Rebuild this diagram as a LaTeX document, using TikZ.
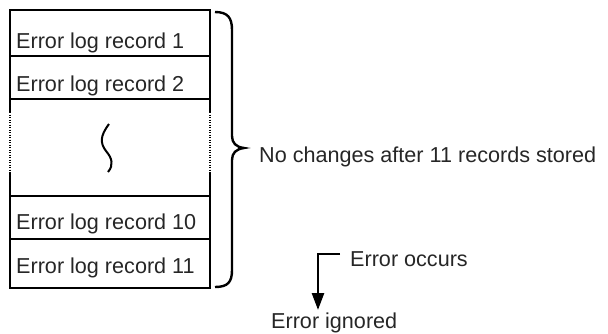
\documentclass[tikz,border=0pt]{standalone}
\usepackage{fontspec}
\setmainfont{Liberation Sans}
\usetikzlibrary{arrows.meta}
\begin{document}
\begin{tikzpicture}[x=1pt,y=-1pt,
  lbl/.style={inner sep=0pt,anchor=base west,text=black!85,font=\fontsize{21.6}{25}\selectfont},
  frame/.style={line width=2.6pt},
  dots/.style={line width=2pt,dash pattern=on 1.2pt off 1.3pt}]
\useasboundingbox (0,0) rectangle (608,333);
% outer box and separators
\draw[frame] (10,99) -- (10,10) -- (210,10) -- (210,99);
\draw[frame] (10,172) -- (10,288) -- (210,288) -- (210,172);
\draw[frame] (10,99) -- (10,112);
\draw[frame] (210,99) -- (210,112);
\draw[dots] (10,112) -- (10,172);
\draw[dots] (210,112) -- (210,172);
\draw[frame] (10,56) -- (210,56);
\draw[frame] (10,99) -- (210,99);
\draw[frame] (10,196) -- (210,196);
\draw[frame] (10,239) -- (210,239);
% records
\node[lbl] (r1) at (16,48) {Error log record 1};
\node[lbl] (r2) at (16,91) {Error log record 2};
\node[lbl] (r10) at (16,229) {Error log record 10};
\node[lbl] (r11) at (16,273) {Error log record 11};
% squiggle
\draw[line width=2pt] (109,124) .. controls (100,136) and (100,143) .. (106,151)
  .. controls (112,158) and (114,165) .. (108,172);
% brace
\draw[line width=2.4pt] (215,12) .. controls (228,12) and (232,18) .. (232,30)
  -- (232,136) .. controls (232,143) and (236,147) .. (244,148)
  .. controls (236,149) and (232,153) .. (232,160)
  -- (232,270) .. controls (232,282) and (228,287) .. (215,287);
\node[lbl] (nc) at (259,162) {No changes after 11 records stored};
% arrow
\node[lbl] (eo) at (350,266) {Error occurs};
\node[lbl] (ei) at (271,328) {Error ignored};
\coordinate (a0) at (340,254);
\coordinate (a1) at (318,254);
\coordinate (a2) at (318,310);
\draw[line width=2.6pt,-{Triangle[length=17pt,width=12pt]}] (a0) -- (a1) -- (a2);
\end{tikzpicture}
\end{document}
